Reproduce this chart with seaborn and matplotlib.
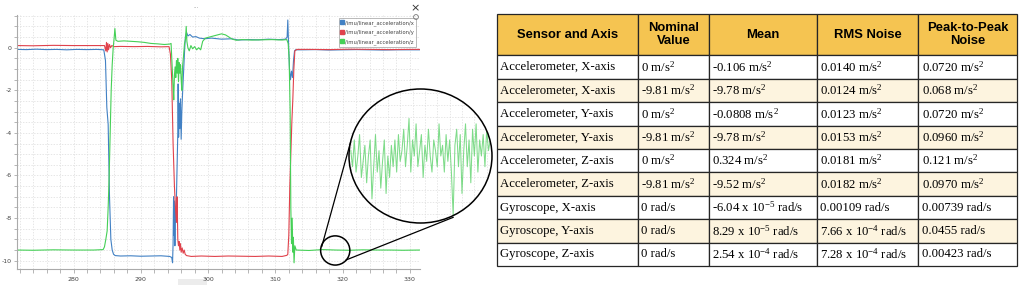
import numpy as np
import pandas as pd
import seaborn as sns
import matplotlib
matplotlib.use("Agg")
import matplotlib.pyplot as plt
from matplotlib.ticker import MultipleLocator
from matplotlib.lines import Line2D
from matplotlib.patches import Circle, Ellipse, Rectangle

# ---------------- data: IMU linear acceleration (rqt_plot) ----------------
topics = ["/imu/linear_acceleration/x", "/imu/linear_acceleration/y", "/imu/linear_acceleration/z"]
topic_colors = ["#4281c4", "#e0424c", "#45d056"]

acc_x_time = [271.6, 273, 274.5, 276, 277.5, 279, 280.5, 282, 283.5, 284.5,
              284.75, 284.95, 285.15, 285.35, 285.55, 285.75, 285.95, 286.2, 287, 288.5,
              290, 291.5, 293, 294.3, 294.6, 294.72, 294.8, 294.87, 294.93, 295.0,
              295.07, 295.13, 295.2, 295.3, 295.4, 295.5, 295.55, 295.62, 295.7, 295.8,
              295.9, 296.0, 296.1, 296.2, 296.35, 296.5, 296.62, 296.8, 297.0, 297.3,
              297.7, 298.2, 298.7, 299.5, 300.5, 302, 303.5, 304.5, 306, 307.5,
              309, 310.5, 311.5, 311.75, 311.85, 311.95, 312.1, 312.25, 312.4, 312.55,
              312.7, 312.85, 313.0, 314, 316, 318, 320, 322, 324, 326,
              328, 330, 331.5]
acc_x_value = [-0.08, -0.09, -0.07, -0.09, -0.08, -0.10, -0.08, -0.09, -0.08, -0.10,
               -0.6, -2.8, -3.6, -7.0, -9.0, -9.5, -9.7, -9.76, -9.78, -9.77,
               -9.79, -9.78, -9.77, -9.80, -9.85, -10.1, -9.2, -7.0, -8.8, -7.2,
               -9.3, -7.5, -8.2, -7.0, -5.5, -4.0, -1.7, -4.2, -2.6, -3.8,
               -2.4, -4.3, -3.0, -2.2, -1.2, -0.2, 0.5, 0.72, 0.55, 0.62,
               0.50, 0.52, 0.45, 0.42, 0.45, 0.40, 0.42, 0.36, 0.38, 0.37,
               0.40, 0.38, 0.40, 0.50, 1.30, 0.30, -1.0, -1.5, -1.1, -1.4,
               -0.6, -0.15, -0.10, -0.10, -0.09, -0.11, -0.10, -0.09, -0.10, -0.11,
               -0.10, -0.10, -0.10]

acc_y_time = [271.6, 274, 277, 280, 283, 284.6, 284.8, 284.9, 285.0, 285.1,
              285.2, 285.35, 285.5, 285.7, 286.0, 287, 289, 291, 293, 294.2,
              294.4, 294.6, 294.8, 295.0, 295.15, 295.3, 295.4, 295.5, 295.6, 295.7,
              295.8, 295.9, 296.0, 296.15, 296.3, 296.45, 296.6, 296.8, 297.5, 299,
              301, 303, 305, 307, 309, 311, 311.7, 311.85, 312.0, 312.15,
              312.3, 312.45, 312.6, 312.75, 312.9, 313.2, 315, 318, 321, 324,
              327, 330, 331.5]
acc_y_value = [0.10, 0.09, 0.11, 0.10, 0.10, 0.10, -0.15, 0.25, -0.20, 0.20,
               -0.10, 0.15, 0.00, 0.10, 0.05, 0.06, 0.05, 0.06, 0.04, 0.05,
               -0.3, -1.5, -4.5, -6.5, -7.5, -8.2, -7.0, -9.0, -9.3, -9.1,
               -9.5, -9.2, -9.6, -9.4, -9.65, -9.5, -9.7, -9.76, -9.80, -9.78,
               -9.80, -9.78, -9.79, -9.80, -9.78, -9.80, -9.75, -9.70, -8.8, -6.5,
               -5.0, -3.5, -2.4, -1.0, -0.15, -0.08, -0.08, -0.09, -0.07, -0.08,
               -0.09, -0.08, -0.08]

acc_z_time = [271.6, 274, 277, 280, 283, 284.4, 284.6, 284.8, 285.0, 285.15,
              285.3, 285.45, 285.6, 285.75, 285.9, 286.05, 286.15, 286.3, 286.6, 287.5,
              288.5, 289.5, 290.5, 291.5, 292.5, 293.5, 294.3, 294.5, 294.65, 294.8,
              294.9, 295.0, 295.1, 295.2, 295.3, 295.4, 295.5, 295.6, 295.7, 295.8,
              295.9, 296.0, 296.1, 296.2, 296.35, 296.5, 296.65, 296.75, 296.85, 297.0,
              297.2, 297.45, 297.7, 298.0, 298.3, 298.6, 298.9, 299.2, 299.6, 300.2,
              300.8, 301.4, 302.0, 302.6, 303.1, 303.6, 304.2, 305, 306.5, 308,
              309.5, 311, 311.7, 311.9, 312.05, 312.2, 312.3, 312.4, 312.5, 312.6,
              312.68, 312.78, 312.9, 313.1, 315, 317, 319, 321, 323, 325,
              327, 329, 331.5]
acc_z_value = [-9.50, -9.51, -9.49, -9.50, -9.50, -9.48, -9.35, -9.0, -8.6, -7.5,
               -6.0, -4.0, -2.0, -0.8, 0.0, 0.5, 0.9, 0.35, 0.30, 0.32,
               0.30, 0.28, 0.25, 0.20, 0.18, 0.15, 0.17, 0.20, -0.8, -1.8,
               -2.45, -1.3, -0.9, -1.4, -0.6, -1.2, -0.5, -1.6, -0.7, -1.2,
               -0.8, -1.5, -2.0, -0.9, -0.4, 0.2, 0.4, 1.0, 0.3, 0.0,
               -0.15, 0.1, -0.05, 0.05, -0.1, 0.0, -0.1, 0.3, 0.45, 0.5,
               0.55, 0.6, 0.65, 0.6, 0.5, 0.4, 0.35, 0.38, 0.36, 0.37,
               0.38, 0.36, 0.38, 0.2, -0.5, -3.0, -7.5, -9.2, -8.0, -9.6,
               -8.9, -10.1, -9.3, -9.5, -9.52, -9.48, -9.50, -9.51, -9.49, -9.50,
               -9.50, -9.51, -9.50]

# magnified z-axis noise shown in the circular inset
zoom_center = (318.9, -9.52)
zoom_z_value = [-9.49, -9.52, -9.47, -9.53, -9.50, -9.46, -9.54, -9.51, -9.48, -9.55,
                -9.50, -9.47, -9.58, -9.52, -9.46, -9.53, -9.49, -9.56, -9.51, -9.47,
                -9.57, -9.50, -9.54, -9.48, -9.52, -9.47, -9.53, -9.46, -9.51, -9.49,
                -9.45, -9.52, -9.48, -9.43, -9.53, -9.47, -9.50, -9.44, -9.52, -9.49,
                -9.46, -9.54, -9.48, -9.51, -9.45, -9.50, -9.53, -9.47, -9.49, -9.52,
                -9.44, -9.50, -9.48, -9.53, -9.46,
                -9.51, -9.47, -9.53, -9.61, -9.48, -9.45, -9.52, -9.46, -9.57, -9.49,
                -9.44, -9.52, -9.47, -9.55, -9.45, -9.50, -9.44, -9.53, -9.47, -9.50,
                -9.46, -9.52, -9.45, -9.49, -9.47]

# ---------------- data: noise table ----------------
table_headers = ["Sensor and Axis", "Nominal\nValue", "Mean", "RMS Noise", "Peak-to-Peak\nNoise"]
sensor_axis = ["Accelerometer, X-axis", "Accelerometer, X-axis", "Accelerometer, Y-axis",
               "Accelerometer, Y-axis", "Accelerometer, Z-axis", "Accelerometer, Z-axis",
               "Gyroscope, X-axis", "Gyroscope, Y-axis", "Gyroscope, Z-axis"]
MS2 = "m/s${}^{2}$"
nominal_value = ["0 " + MS2, "-9.81 " + MS2, "0 " + MS2, "-9.81 " + MS2, "0 " + MS2,
                 "-9.81 " + MS2, "0 rad/s", "0 rad/s", "0 rad/s"]
mean_value = ["-0.106 " + MS2, "-9.78 " + MS2, "-0.0808 " + MS2, "-9.78 " + MS2,
              "0.324 " + MS2, "-9.52 " + MS2, "-6.04 x 10${}^{-5}$ rad/s",
              "8.29 x 10${}^{-5}$ rad/s", "2.54 x 10${}^{-4}$ rad/s"]
rms_noise = ["0.0140 " + MS2, "0.0124 " + MS2, "0.0123 " + MS2, "0.0153 " + MS2,
             "0.0181 " + MS2, "0.0182 " + MS2, "0.00109 rad/s",
             "7.66 x 10${}^{-4}$ rad/s", "7.28 x 10${}^{-4}$ rad/s"]
p2p_noise = ["0.0720 " + MS2, "0.068 " + MS2, "0.0720 " + MS2, "0.0960 " + MS2,
             "0.121 " + MS2, "0.0970 " + MS2, "0.00739 rad/s", "0.0455 rad/s", "0.00423 rad/s"]

# ---------------- style ----------------
sns.set_theme(style="white")
plt.rcParams["font.family"] = ["DejaVu Sans"]
plt.rcParams["axes.unicode_minus"] = False
plt.rcParams["mathtext.fontset"] = "custom"
plt.rcParams["mathtext.rm"] = "Liberation Serif"
plt.rcParams["mathtext.it"] = "Liberation Serif:italic"
plt.rcParams["mathtext.bf"] = "Liberation Serif:bold"
plt.rcParams["mathtext.default"] = "rm"

W, H = 1024, 287
fig = plt.figure(figsize=(W / 100, H / 100), dpi=100)
fig.patch.set_facecolor("white")


def fbox(l, t, r, b):
    return [l / W, 1 - b / H, (r - l) / W, (b - t) / H]


# scrollbar-like grey strip under the x axis (behind everything)
fig.add_artist(Rectangle((178 / W, 1 - 285 / H), 29 / W, 6 / H, transform=fig.transFigure,
                         fc="#ececec", ec="none", zorder=0))

# ---------------- main line plot ----------------
ax = fig.add_axes(fbox(17, 15, 420, 269), zorder=1)
ax.patch.set_visible(False)
df = pd.concat([
    pd.DataFrame({"time": acc_x_time, "value": acc_x_value, "topic": topics[0]}),
    pd.DataFrame({"time": acc_y_time, "value": acc_y_value, "topic": topics[1]}),
    pd.DataFrame({"time": acc_z_time, "value": acc_z_value, "topic": topics[2]}),
])
sns.lineplot(data=df, x="time", y="value", hue="topic", hue_order=topics,
             palette=topic_colors, estimator=None, sort=False, lw=0.8,
             legend=False, ax=ax)
ax.set_xlim(271.6, 331.5)
ax.set_ylim(-10.39, 1.535)
ax.set_xlabel("")
ax.set_ylabel("")
ax.xaxis.set_major_locator(MultipleLocator(10))
ax.xaxis.set_minor_locator(MultipleLocator(2))
ax.yaxis.set_major_locator(MultipleLocator(2))
ax.yaxis.set_minor_locator(MultipleLocator(0.5))
ax.grid(True, which="both", color="#dcdcdc", ls=(0, (2, 2)), lw=0.5)
ax.set_axisbelow(True)
ax.tick_params(axis="both", which="both", direction="out", color="#999",
               labelcolor="#444", labelsize=4.5, width=0.5)
ax.tick_params(axis="x", which="both", length=3, pad=3, bottom=True)
ax.tick_params(axis="y", which="both", length=2.5, pad=1.5, left=True)
for s in ("top", "right"):
    ax.spines[s].set_visible(False)
for s in ("left", "bottom"):
    ax.spines[s].set_color("#aaaaaa")
    ax.spines[s].set_linewidth(0.8)

handles = [Line2D([0], [0], marker="s", ls="", color=c, markersize=2.6) for c in topic_colors]
leg = ax.legend(handles, topics, loc="upper right", bbox_to_anchor=(416 / W, 1 - 18 / H),
                bbox_transform=fig.transFigure, fontsize=3.8, frameon=True, fancybox=False,
                edgecolor="#9a9a9a", handlelength=0.5, handletextpad=0.3, borderpad=0.35,
                labelspacing=0.75, borderaxespad=0)
leg.get_frame().set_linewidth(0.6)
for t in leg.get_texts():
    t.set_color("#444")

# ---------------- overlay: zoom circle and connectors ----------------
ov = fig.add_axes([0, 0, 1, 1], zorder=5)
ov.set_xlim(0, W)
ov.set_ylim(H, 0)
ov.axis("off")
ov.patch.set_visible(False)
cx, cy = ax.transData.transform(zoom_center)
cy = H - cy
ov.add_patch(Circle((cx, cy), 14.6, fill=False, ec="black", lw=1.1))
ov.plot([321.7, 350.7], [246.7, 141.7], color="black", lw=0.9)
ov.plot([346.0, 453.3], [260.0, 217.3], color="black", lw=0.9)
ov.add_patch(Circle((416, 17), 2.4, fill=False, ec="#777", lw=0.6))
ov.text(415, 8, "×", ha="center", va="center", fontsize=8, color="#333")
ov.text(196, 8, "···", ha="center", va="center", fontsize=4, color="#777")

# ---------------- inset (magnified circle) ----------------
ax_in = fig.add_axes(fbox(349, 89, 492, 223), zorder=6)
ax_in.patch.set_visible(False)
bg = Ellipse((0.5, 0.5), 1, 1, transform=ax_in.transAxes, fc="white", ec="none", zorder=0)
ax_in.add_patch(bg)
sns.lineplot(x=list(range(len(zoom_z_value))), y=zoom_z_value, color="#5fd36d",
             lw=0.75, alpha=0.8, ax=ax_in, estimator=None, sort=False)
ax_in.set_xlim(-1, len(zoom_z_value))
ax_in.set_ylim(-9.625, -9.375)
ax_in.xaxis.set_major_locator(MultipleLocator(7))
ax_in.yaxis.set_major_locator(MultipleLocator(0.0225))
ax_in.grid(True, color="#dddddd", ls=(0, (2, 2)), lw=0.5)
ax_in.set_axisbelow(True)
ax_in.tick_params(length=0, labelbottom=False, labelleft=False)
ax_in.set_xlabel("")
ax_in.set_ylabel("")
for s in ax_in.spines.values():
    s.set_visible(False)
ax_in.add_patch(Ellipse((0.5, 0.5), 1, 1, transform=ax_in.transAxes, fill=False,
                        ec="black", lw=1.1, zorder=10, clip_on=False))

# ---------------- table ----------------
tax = fig.add_axes(fbox(497, 14, 1017, 266), zorder=2)
tax.axis("off")
rows = [list(r) for r in zip(sensor_axis, nominal_value, mean_value, rms_noise, p2p_noise)]
tbl = tax.table(cellText=rows, colLabels=table_headers, cellLoc="left", colLoc="center",
                bbox=[0, 0, 1, 1])
tbl.auto_set_font_size(False)
col_px = [140.7, 71.3, 108.0, 101.0, 99.0]
for (r, c), cell in tbl.get_celld().items():
    cell.set_width(col_px[c])
    cell.set_height(41.5 if r == 0 else 23.39)
    cell.set_edgecolor("#262626")
    cell.set_linewidth(0.9)
    cell.PAD = 3.5 / col_px[c]
    txt = cell.get_text()
    txt.set_color("black")
    if r == 0:
        cell.set_facecolor("#f5c451")
        txt.set_fontfamily("Liberation Sans")
        txt.set_fontweight("bold")
        txt.set_fontsize(9.4)
        txt.set_linespacing(1.1)
    else:
        cell.set_facecolor("#fdf4df" if r % 2 == 0 else "white")
        txt.set_fontfamily("Liberation Serif")
        txt.set_fontsize(9.2)

# clip the inset's grid and signal to the circle
fig.canvas.draw()
for gl in ax_in.xaxis.get_gridlines() + ax_in.yaxis.get_gridlines():
    gl.set_clip_path(bg)
for ln in ax_in.lines:
    ln.set_clip_path(bg)

fig.savefig("out.png", dpi=100, facecolor="white")
